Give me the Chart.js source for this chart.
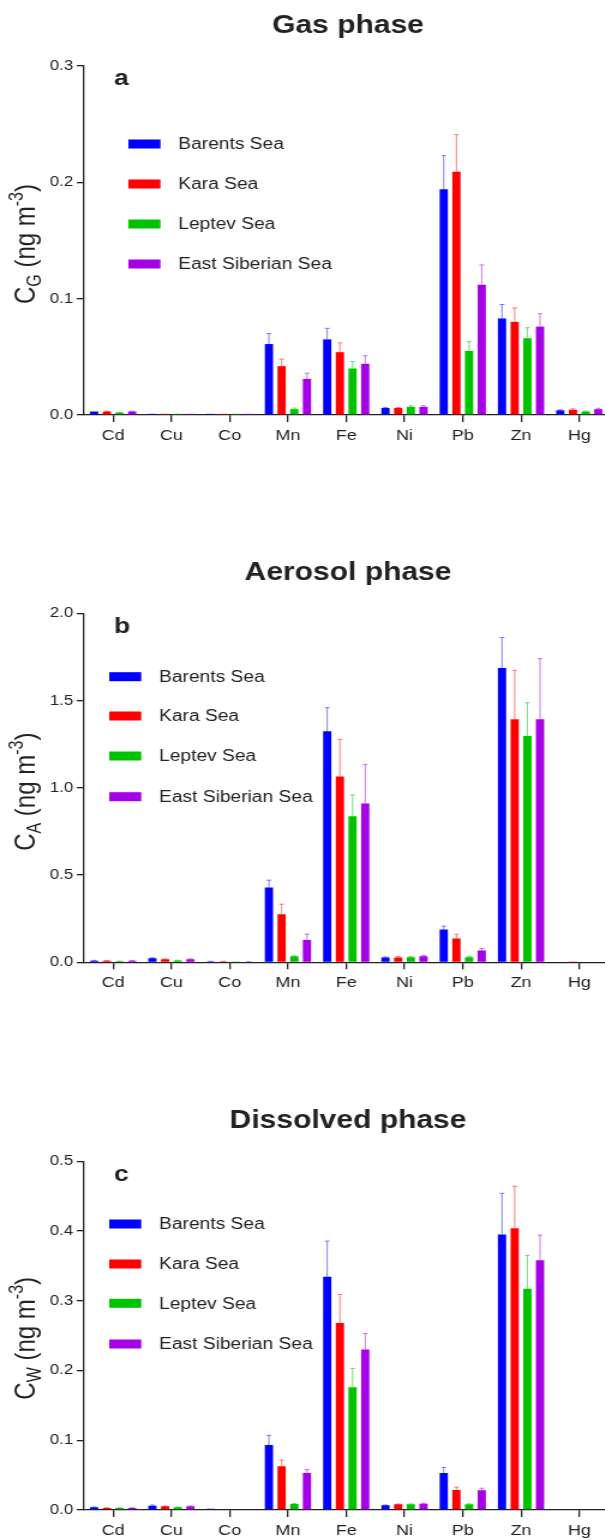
<!DOCTYPE html>
<html>
<head>
<meta charset="utf-8">
<script src="https://cdn.jsdelivr.net/npm/chart.js@4.4.0/dist/chart.umd.min.js"></script>
<style>
  html, body { margin: 0; padding: 0; background: #fff; width: 605px; overflow: hidden; }
  canvas { display: block; }
</style>
</head>
<body>
<canvas id="gasChart" width="510" height="500" style="width:612px;height:500px"></canvas>
<canvas id="aerosolChart" width="510" height="540" style="width:612px;height:540px"></canvas>
<canvas id="dissolvedChart" width="510" height="500" style="width:612px;height:500px"></canvas>
<script>
const elements = ['Cd', 'Cu', 'Co', 'Mn', 'Fe', 'Ni', 'Pb', 'Zn', 'Hg'];
const seas = ['Barents Sea', 'Kara Sea', 'Leptev Sea', 'East Siberian Sea'];

// gas phase (ng m-3), mean and upper error
const gasBarents = [0.003, 0.001, 0.001, 0.061, 0.065, 0.006, 0.194, 0.083, 0.004];
const gasKara    = [0.003, 0.001, 0.001, 0.042, 0.054, 0.006, 0.209, 0.080, 0.0045];
const gasLeptev  = [0.002, 0.001, 0.001, 0.005, 0.040, 0.007, 0.055, 0.066, 0.003];
const gasEast    = [0.003, 0.001, 0.001, 0.031, 0.044, 0.007, 0.112, 0.076, 0.005];
const gasBarentsErr = [0, 0, 0, 0.009, 0.0095, 0.0005, 0.029, 0.012, 0.0005];
const gasKaraErr    = [0.0003, 0, 0, 0.006, 0.008, 0.0005, 0.032, 0.012, 0.0008];
const gasLeptevErr  = [0.0002, 0, 0, 0.001, 0.006, 0.001, 0.008, 0.009, 0.0003];
const gasEastErr    = [0.0003, 0, 0, 0.005, 0.007, 0.001, 0.017, 0.011, 0.0008];

// aerosol phase
const aerBarents = [0.009, 0.023, 0.005, 0.429, 1.325, 0.028, 0.188, 1.687, 0];
const aerKara    = [0.009, 0.017, 0.005, 0.276, 1.065, 0.028, 0.136, 1.393, 0.001];
const aerLeptev  = [0.006, 0.010, 0.001, 0.034, 0.837, 0.029, 0.029, 1.297, 0];
const aerEast    = [0.009, 0.017, 0.003, 0.128, 0.910, 0.034, 0.067, 1.393, 0];
const aerBarentsErr = [0.002, 0.003, 0.001, 0.042, 0.135, 0.003, 0.019, 0.175, 0];
const aerKaraErr    = [0.002, 0.003, 0.001, 0.057, 0.213, 0.005, 0.025, 0.281, 0];
const aerLeptevErr  = [0.001, 0.002, 0, 0.004, 0.123, 0.004, 0.004, 0.191, 0];
const aerEastErr    = [0.002, 0.003, 0.001, 0.033, 0.224, 0.005, 0.013, 0.348, 0];

// dissolved phase
const disBarents = [0.0038, 0.0062, 0.0019, 0.093, 0.3345, 0.0067, 0.053, 0.395, 0];
const disKara    = [0.0029, 0.0053, 0, 0.0626, 0.268, 0.0081, 0.0287, 0.404, 0];
const disLeptev  = [0.0029, 0.0038, 0, 0.0086, 0.176, 0.0081, 0.0081, 0.317, 0];
const disEast    = [0.0029, 0.0053, 0, 0.053, 0.230, 0.009, 0.0282, 0.358, 0];
const disBarentsErr = [0.0005, 0.001, 0, 0.014, 0.051, 0.0005, 0.008, 0.059, 0];
const disKaraErr    = [0.0003, 0.0005, 0, 0.009, 0.041, 0.0006, 0.004, 0.060, 0];
const disLeptevErr  = [0.0003, 0.0004, 0, 0.0008, 0.027, 0.0008, 0.0008, 0.048, 0];
const disEastErr    = [0.0003, 0.0006, 0, 0.005, 0.023, 0.0008, 0.003, 0.036, 0];

const seaColors = ['#0000ff', '#ff0000', '#00c300', '#a500e6'];
const errorColors = ['rgba(0,0,255,0.5)', 'rgba(255,0,0,0.5)', 'rgba(0,195,0,0.55)', 'rgba(165,0,230,0.55)'];
const FONT = "'Liberation Sans', Arial, sans-serif";
const INK = '#222';

const drawAxisTitle = (ctx, x, y, sub) => {
    const parts = [
        { text: 'C', size: 24, shift: 0 },
        { text: sub, size: 16, shift: 5 },
        { text: ' (ng m', size: 24, shift: 0 },
        { text: '-3', size: 16, shift: -10 },
        { text: ')', size: 24, shift: 0 }
    ];
    ctx.save();
    ctx.translate(x, y);
    ctx.rotate(-Math.PI / 2);
    let total = 0;
    parts.forEach(p => {
        ctx.font = `${p.size}px ${FONT}`;
        p.w = ctx.measureText(p.text).width;
        total += p.w;
    });
    let pos = -total / 2;
    ctx.fillStyle = INK;
    ctx.textAlign = 'left';
    ctx.textBaseline = 'alphabetic';
    parts.forEach(p => {
        ctx.font = `${p.size}px ${FONT}`;
        ctx.fillText(p.text, pos, p.shift);
        pos += p.w;
    });
    ctx.restore();
};

const decorPlugin = {
    id: 'decor',
    afterDatasetsDraw(chart) {
        const ctx = chart.ctx;
        const yScale = chart.scales.y;
        ctx.save();
        chart.data.datasets.forEach((ds, i) => {
            const meta = chart.getDatasetMeta(i);
            ctx.strokeStyle = ds.errorColor;
            ctx.lineWidth = 1;
            meta.data.forEach((bar, j) => {
                const err = ds.errors[j];
                if (!err) return;
                const yTop = yScale.getPixelForValue(ds.data[j] + err);
                ctx.beginPath();
                ctx.moveTo(bar.x, bar.y);
                ctx.lineTo(bar.x, yTop);
                ctx.moveTo(bar.x - 2, yTop);
                ctx.lineTo(bar.x + 2, yTop);
                ctx.stroke();
            });
        });
        ctx.restore();
    },
    afterDraw(chart, args, opts) {
        const ctx = chart.ctx;
        ctx.save();
        ctx.fillStyle = INK;

        ctx.font = `bold 25px ${FONT}`;
        ctx.textAlign = 'center';
        ctx.textBaseline = 'alphabetic';
        ctx.fillText(opts.title, 290, opts.titleY);

        ctx.font = `bold 22px ${FONT}`;
        ctx.textAlign = 'left';
        ctx.fillText(opts.letter, 95, opts.letterY);

        ctx.font = `16px ${FONT}`;
        ctx.textBaseline = 'middle';
        chart.data.datasets.forEach((ds, i) => {
            const rowY = opts.legendRows[i];
            ctx.fillStyle = ds.backgroundColor;
            ctx.fillRect(opts.legendX, rowY - 4.5, 26.7, 9);
            ctx.fillStyle = INK;
            ctx.fillText(ds.label, opts.legendX + 41.5, rowY + 1);
        });
        ctx.restore();

        drawAxisTitle(ctx, 29, opts.axisTitleY, opts.sub);
    }
};

const buildChart = (canvasId, panel) => {
    const canvas = document.getElementById(canvasId);
    const canvasHeight = canvas.height;

    return new Chart(canvas, {
        type: 'bar',
        data: {
            labels: elements,
            datasets: panel.series.map((values, i) => ({
                label: seas[i],
                data: values,
                errors: panel.errors[i],
                backgroundColor: seaColors[i],
                errorColor: errorColors[i],
                borderWidth: 0,
                barPercentage: 0.65,
                categoryPercentage: 0.87
            }))
        },
        plugins: [decorPlugin],
        options: {
            responsive: false,
            animation: false,
            devicePixelRatio: 1,
            layout: {
                padding: { top: panel.plotTop, left: 0, right: 3, bottom: 0 }
            },
            plugins: {
                legend: { display: false },
                tooltip: { enabled: false },
                decor: panel.decor
            },
            scales: {
                x: {
                    offset: true,
                    afterFit: scale => { scale.height = canvasHeight - panel.plotBottom; },
                    border: { display: true, color: INK, width: 1.3 },
                    grid: {
                        offset: false,
                        drawOnChartArea: false,
                        color: INK,
                        lineWidth: 1.3,
                        tickLength: 7
                    },
                    ticks: {
                        color: INK,
                        padding: 5,
                        maxRotation: 0,
                        font: { family: FONT, size: 15 }
                    }
                },
                y: {
                    min: 0,
                    max: panel.max,
                    afterFit: scale => { scale.width = 70; },
                    border: { display: true, color: INK, width: 1.3 },
                    grid: {
                        drawOnChartArea: false,
                        color: INK,
                        lineWidth: 1.3,
                        tickLength: 6
                    },
                    ticks: {
                        stepSize: panel.step,
                        color: INK,
                        padding: 3,
                        font: { family: FONT, size: 14 },
                        callback: value => value.toFixed(1)
                    }
                }
            }
        }
    });
};

buildChart('gasChart', {
    series: [gasBarents, gasKara, gasLeptev, gasEast],
    errors: [gasBarentsErr, gasKaraErr, gasLeptevErr, gasEastErr],
    max: 0.3, step: 0.1,
    plotTop: 66, plotBottom: 415,
    decor: {
        title: 'Gas phase', titleY: 33, letter: 'a', letterY: 85,
        legendX: 107, legendRows: [144, 184, 224, 264],
        sub: 'G', axisTitleY: 244
    }
});

buildChart('aerosolChart', {
    series: [aerBarents, aerKara, aerLeptev, aerEast],
    errors: [aerBarentsErr, aerKaraErr, aerLeptevErr, aerEastErr],
    max: 2.0, step: 0.5,
    plotTop: 113.5, plotBottom: 462.3,
    decor: {
        title: 'Aerosol phase', titleY: 80, letter: 'b', letterY: 133,
        legendX: 91, legendRows: [176.7, 216, 256, 296.7],
        sub: 'A', axisTitleY: 291.7
    }
});

buildChart('dissolvedChart', {
    series: [disBarents, disKara, disLeptev, disEast],
    errors: [disBarentsErr, disKaraErr, disLeptevErr, disEastErr],
    max: 0.5, step: 0.1,
    plotTop: 121.2, plotBottom: 470,
    decor: {
        title: 'Dissolved phase', titleY: 88.3, letter: 'c', letterY: 140.7,
        legendX: 91, legendRows: [184, 224, 263.3, 304],
        sub: 'W', axisTitleY: 298.3
    }
});
</script>
</body>
</html>
